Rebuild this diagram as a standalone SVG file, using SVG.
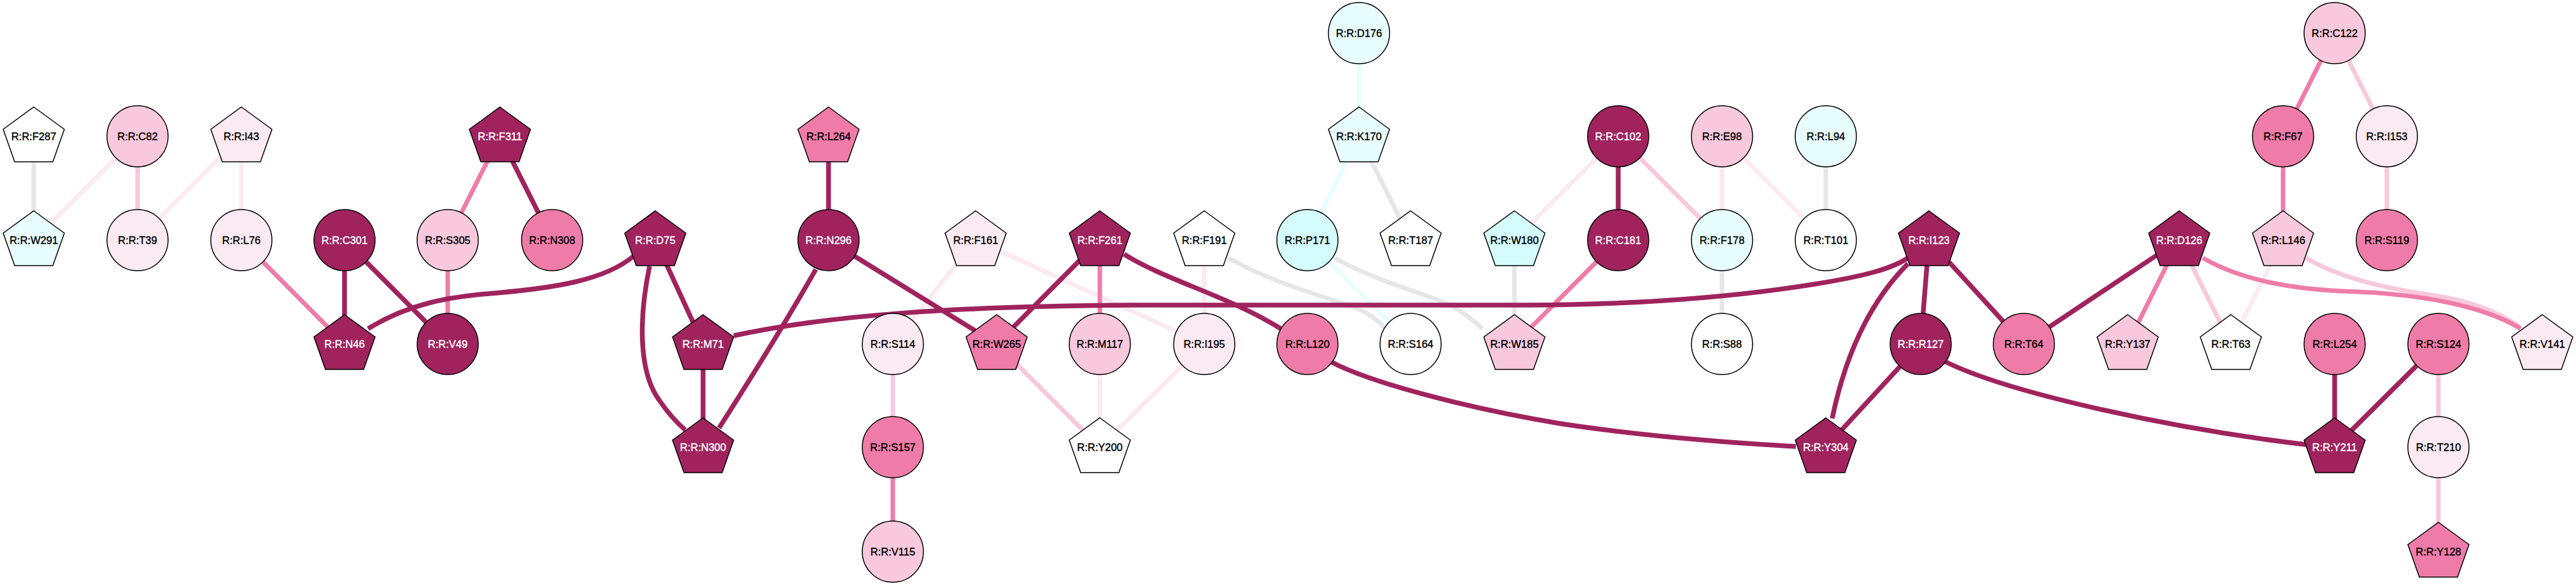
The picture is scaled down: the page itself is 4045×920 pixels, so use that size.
<svg xmlns="http://www.w3.org/2000/svg" xmlns:xlink="http://www.w3.org/1999/xlink" width="4045" height="920" viewBox="0 0 4045 920">
<style>
.e{fill:none}
.d{stroke:#a0235e;stroke-width:7.5}
.m{stroke:#ef7ca8;stroke-width:7}
.l{stroke:#f8c8dc;stroke-width:7}
.v{stroke:#fbeaf2;stroke-width:7}
.g{stroke:#e6e6e6;stroke-width:7}
.c{stroke:#e8fefe;stroke-width:7}
.s{stroke:#000;stroke-width:1.5}
.fd{fill:#a0235e}.fm{fill:#ef7ca8}.fl{fill:#f8c8dc}.fv{fill:#fbeaf2}.fw{fill:#fff}.fc{fill:#e8fefe}.fC{fill:#d4fcfc}
text{font-family:"Liberation Sans",Arial,sans-serif;font-size:16.5px;text-anchor:middle;fill:#000;stroke:#000;stroke-width:0.4}
text.w{fill:#fff;stroke:#fff}
</style>
<defs>
<polygon id="p" points="0,-46 48,-11 30,40 -30,40 -48,-11"/>
<circle id="o" r="48"/>
</defs>
<rect width="4045" height="920" fill="#fff"/>
<g id="edges" class="e">
<line class="g" x1="53" y1="214" x2="53" y2="377"/>
<line class="v" x1="216" y1="214" x2="53" y2="377"/>
<line class="l" x1="216" y1="214" x2="216" y2="377"/>
<line class="v" x1="379" y1="214" x2="216" y2="377"/>
<line class="v" x1="379" y1="214" x2="379" y2="377"/>
<line class="m" x1="379" y1="377" x2="541" y2="540"/>
<line class="m" x1="785" y1="214" x2="703" y2="377"/>
<line class="m" x1="703" y1="377" x2="703" y2="540"/>
<line class="v" x1="1532" y1="377" x2="1402" y2="540"/>
<line class="v" x1="1532" y1="377" x2="1891" y2="540"/>
<line class="m" x1="1727" y1="377" x2="1727" y2="540"/>
<line class="l" x1="1402" y1="540" x2="1402" y2="702"/>
<line class="m" x1="1402" y1="702" x2="1402" y2="866"/>
<line class="l" x1="1565" y1="540" x2="1727" y2="702"/>
<line class="v" x1="1727" y1="540" x2="1727" y2="702"/>
<line class="v" x1="1891" y1="540" x2="1727" y2="702"/>
<line class="v" x1="1891" y1="377" x2="1891" y2="540"/>
<path class="g" d="M1929,405 C1990,440 2060,460 2120,480 C2150,490 2165,505 2176,516"/>
<path class="g" d="M2096,405 C2150,435 2200,450 2250,468 C2290,482 2310,500 2328,516"/>
<line class="c" x1="2053" y1="377" x2="2215" y2="540"/>
<line class="c" x1="2134" y1="52" x2="2134" y2="214"/>
<line class="c" x1="2134" y1="214" x2="2053" y2="377"/>
<line class="g" x1="2134" y1="214" x2="2215" y2="377"/>
<line class="g" x1="2378" y1="377" x2="2378" y2="540"/>
<line class="v" x1="2541" y1="214" x2="2378" y2="377"/>
<line class="l" x1="2541" y1="214" x2="2704" y2="377"/>
<line class="m" x1="2541" y1="377" x2="2378" y2="540"/>
<line class="v" x1="2704" y1="214" x2="2704" y2="377"/>
<line class="v" x1="2704" y1="214" x2="2867" y2="377"/>
<line class="g" x1="2704" y1="377" x2="2704" y2="540"/>
<line class="g" x1="2867" y1="214" x2="2867" y2="377"/>
<line class="m" x1="3422" y1="377" x2="3341" y2="540"/>
<line class="l" x1="3422" y1="377" x2="3503" y2="540"/>
<line class="v" x1="3585" y1="377" x2="3503" y2="540"/>
<line class="m" x1="3666" y1="52" x2="3585" y2="214"/>
<line class="l" x1="3666" y1="52" x2="3748" y2="214"/>
<line class="m" x1="3585" y1="214" x2="3585" y2="377"/>
<line class="l" x1="3748" y1="214" x2="3748" y2="377"/>
<line class="l" x1="3829" y1="540" x2="3829" y2="702"/>
<line class="l" x1="3829" y1="702" x2="3829" y2="866"/>
<path class="l" d="M3621,405 C3680,440 3760,455 3830,465 C3890,475 3930,495 3955,512"/>
<path class="m" d="M3459,405 C3520,440 3600,455 3700,458 C3800,462 3900,480 3958,516"/>
<line class="d" x1="541" y1="377" x2="541" y2="540"/>
<line class="d" x1="541" y1="377" x2="703" y2="540"/>
<line class="d" x1="785" y1="214" x2="867" y2="377"/>
<path class="d" d="M578,516 C640,478 700,466 780,460 C870,452 950,440 995,402"/>
<line class="d" x1="1029" y1="377" x2="1104" y2="540"/>
<path class="d" d="M1020,418 C1005,490 1000,580 1035,628 C1050,650 1062,663 1076,675"/>
<line class="d" x1="1104" y1="540" x2="1104" y2="702"/>
<path class="d" d="M1281,423 Q1220,530 1129,672"/>
<line class="d" x1="1301" y1="214" x2="1301" y2="377"/>
<line class="d" x1="1301" y1="377" x2="1565" y2="540"/>
<path class="d" d="M1152,527 C1300,495 1500,480 1800,479 L2400,479 C2600,478 2750,462 2850,446 C2930,433 2970,422 2996,405"/>
<line class="d" x1="1727" y1="377" x2="1565" y2="540"/>
<path class="d" d="M1765,399 C1830,440 1930,465 2011,516"/>
<path class="d" d="M2090,568 C2150,600 2300,640 2450,665 C2600,688 2750,697 2820,701"/>
<line class="d" x1="2541" y1="214" x2="2541" y2="377"/>
<line class="d" x1="3029" y1="377" x2="3016" y2="540"/>
<line class="d" x1="3029" y1="377" x2="3178" y2="540"/>
<path class="d" d="M2996,414 C2930,480 2895,570 2877,657"/>
<line class="d" x1="3016" y1="540" x2="2867" y2="702"/>
<path class="d" d="M3055,568 C3150,615 3400,672 3621,698"/>
<line class="d" x1="3422" y1="377" x2="3178" y2="540"/>
<line class="d" x1="3666" y1="540" x2="3666" y2="702"/>
<line class="d" x1="3829" y1="540" x2="3666" y2="702"/>
</g>
<g id="D176" transform="translate(2134,52)"><use xlink:href="#o" class="s fc"/><text y="6">R:R:D176</text></g>
<g id="C122" transform="translate(3666,52)"><use xlink:href="#o" class="s fl"/><text y="6">R:R:C122</text></g>
<g id="F287" transform="translate(53,214)"><use xlink:href="#p" class="s fw"/><text y="6">R:R:F287</text></g>
<g id="C82" transform="translate(216,214)"><use xlink:href="#o" class="s fl"/><text y="6">R:R:C82</text></g>
<g id="I43" transform="translate(379,214)"><use xlink:href="#p" class="s fv"/><text y="6">R:R:I43</text></g>
<g id="F311" transform="translate(785,214)"><use xlink:href="#p" class="s fd"/><text y="6" class="w">R:R:F311</text></g>
<g id="L264" transform="translate(1301,214)"><use xlink:href="#p" class="s fm"/><text y="6">R:R:L264</text></g>
<g id="K170" transform="translate(2134,214)"><use xlink:href="#p" class="s fc"/><text y="6">R:R:K170</text></g>
<g id="C102" transform="translate(2541,214)"><use xlink:href="#o" class="s fd"/><text y="6" class="w">R:R:C102</text></g>
<g id="E98" transform="translate(2704,214)"><use xlink:href="#o" class="s fl"/><text y="6">R:R:E98</text></g>
<g id="L94" transform="translate(2867,214)"><use xlink:href="#o" class="s fc"/><text y="6">R:R:L94</text></g>
<g id="F67" transform="translate(3585,214)"><use xlink:href="#o" class="s fm"/><text y="6">R:R:F67</text></g>
<g id="I153" transform="translate(3748,214)"><use xlink:href="#o" class="s fv"/><text y="6">R:R:I153</text></g>
<g id="W291" transform="translate(53,377)"><use xlink:href="#p" class="s fc"/><text y="6">R:R:W291</text></g>
<g id="T39" transform="translate(216,377)"><use xlink:href="#o" class="s fv"/><text y="6">R:R:T39</text></g>
<g id="L76" transform="translate(379,377)"><use xlink:href="#o" class="s fv"/><text y="6">R:R:L76</text></g>
<g id="C301" transform="translate(541,377)"><use xlink:href="#o" class="s fd"/><text y="6" class="w">R:R:C301</text></g>
<g id="S305" transform="translate(703,377)"><use xlink:href="#o" class="s fl"/><text y="6">R:R:S305</text></g>
<g id="N308" transform="translate(867,377)"><use xlink:href="#o" class="s fm"/><text y="6">R:R:N308</text></g>
<g id="D75" transform="translate(1029,377)"><use xlink:href="#p" class="s fd"/><text y="6" class="w">R:R:D75</text></g>
<g id="N296" transform="translate(1301,377)"><use xlink:href="#o" class="s fd"/><text y="6" class="w">R:R:N296</text></g>
<g id="F161" transform="translate(1532,377)"><use xlink:href="#p" class="s fv"/><text y="6">R:R:F161</text></g>
<g id="F261" transform="translate(1727,377)"><use xlink:href="#p" class="s fd"/><text y="6" class="w">R:R:F261</text></g>
<g id="F191" transform="translate(1891,377)"><use xlink:href="#p" class="s fw"/><text y="6">R:R:F191</text></g>
<g id="P171" transform="translate(2053,377)"><use xlink:href="#o" class="s fC"/><text y="6">R:R:P171</text></g>
<g id="T187" transform="translate(2215,377)"><use xlink:href="#p" class="s fw"/><text y="6">R:R:T187</text></g>
<g id="W180" transform="translate(2378,377)"><use xlink:href="#p" class="s fC"/><text y="6">R:R:W180</text></g>
<g id="C181" transform="translate(2541,377)"><use xlink:href="#o" class="s fd"/><text y="6" class="w">R:R:C181</text></g>
<g id="F178" transform="translate(2704,377)"><use xlink:href="#o" class="s fc"/><text y="6">R:R:F178</text></g>
<g id="T101" transform="translate(2867,377)"><use xlink:href="#o" class="s fw"/><text y="6">R:R:T101</text></g>
<g id="I123" transform="translate(3029,377)"><use xlink:href="#p" class="s fd"/><text y="6" class="w">R:R:I123</text></g>
<g id="D126" transform="translate(3422,377)"><use xlink:href="#p" class="s fd"/><text y="6" class="w">R:R:D126</text></g>
<g id="L146" transform="translate(3585,377)"><use xlink:href="#p" class="s fl"/><text y="6">R:R:L146</text></g>
<g id="S119" transform="translate(3748,377)"><use xlink:href="#o" class="s fm"/><text y="6">R:R:S119</text></g>
<g id="N46" transform="translate(541,540)"><use xlink:href="#p" class="s fd"/><text y="6" class="w">R:R:N46</text></g>
<g id="V49" transform="translate(703,540)"><use xlink:href="#o" class="s fd"/><text y="6" class="w">R:R:V49</text></g>
<g id="M71" transform="translate(1104,540)"><use xlink:href="#p" class="s fd"/><text y="6" class="w">R:R:M71</text></g>
<g id="S114" transform="translate(1402,540)"><use xlink:href="#o" class="s fv"/><text y="6">R:R:S114</text></g>
<g id="W265" transform="translate(1565,540)"><use xlink:href="#p" class="s fm"/><text y="6">R:R:W265</text></g>
<g id="M117" transform="translate(1727,540)"><use xlink:href="#o" class="s fl"/><text y="6">R:R:M117</text></g>
<g id="I195" transform="translate(1891,540)"><use xlink:href="#o" class="s fv"/><text y="6">R:R:I195</text></g>
<g id="L120" transform="translate(2053,540)"><use xlink:href="#o" class="s fm"/><text y="6">R:R:L120</text></g>
<g id="S164" transform="translate(2215,540)"><use xlink:href="#o" class="s fw"/><text y="6">R:R:S164</text></g>
<g id="W185" transform="translate(2378,540)"><use xlink:href="#p" class="s fl"/><text y="6">R:R:W185</text></g>
<g id="S88" transform="translate(2704,540)"><use xlink:href="#o" class="s fw"/><text y="6">R:R:S88</text></g>
<g id="R127" transform="translate(3016,540)"><use xlink:href="#o" class="s fd"/><text y="6" class="w">R:R:R127</text></g>
<g id="T64" transform="translate(3178,540)"><use xlink:href="#o" class="s fm"/><text y="6">R:R:T64</text></g>
<g id="Y137" transform="translate(3341,540)"><use xlink:href="#p" class="s fl"/><text y="6">R:R:Y137</text></g>
<g id="T63" transform="translate(3503,540)"><use xlink:href="#p" class="s fw"/><text y="6">R:R:T63</text></g>
<g id="L254" transform="translate(3666,540)"><use xlink:href="#o" class="s fm"/><text y="6">R:R:L254</text></g>
<g id="S124" transform="translate(3829,540)"><use xlink:href="#o" class="s fm"/><text y="6">R:R:S124</text></g>
<g id="V141" transform="translate(3992,540)"><use xlink:href="#p" class="s fv"/><text y="6">R:R:V141</text></g>
<g id="N300" transform="translate(1104,702)"><use xlink:href="#p" class="s fd"/><text y="6" class="w">R:R:N300</text></g>
<g id="S157" transform="translate(1402,702)"><use xlink:href="#o" class="s fm"/><text y="6">R:R:S157</text></g>
<g id="Y200" transform="translate(1727,702)"><use xlink:href="#p" class="s fw"/><text y="6">R:R:Y200</text></g>
<g id="Y304" transform="translate(2867,702)"><use xlink:href="#p" class="s fd"/><text y="6" class="w">R:R:Y304</text></g>
<g id="Y211" transform="translate(3666,702)"><use xlink:href="#p" class="s fd"/><text y="6" class="w">R:R:Y211</text></g>
<g id="T210" transform="translate(3829,702)"><use xlink:href="#o" class="s fv"/><text y="6">R:R:T210</text></g>
<g id="V115" transform="translate(1402,866)"><use xlink:href="#o" class="s fl"/><text y="6">R:R:V115</text></g>
<g id="Y128" transform="translate(3829,866)"><use xlink:href="#p" class="s fm"/><text y="6">R:R:Y128</text></g>
</svg>
